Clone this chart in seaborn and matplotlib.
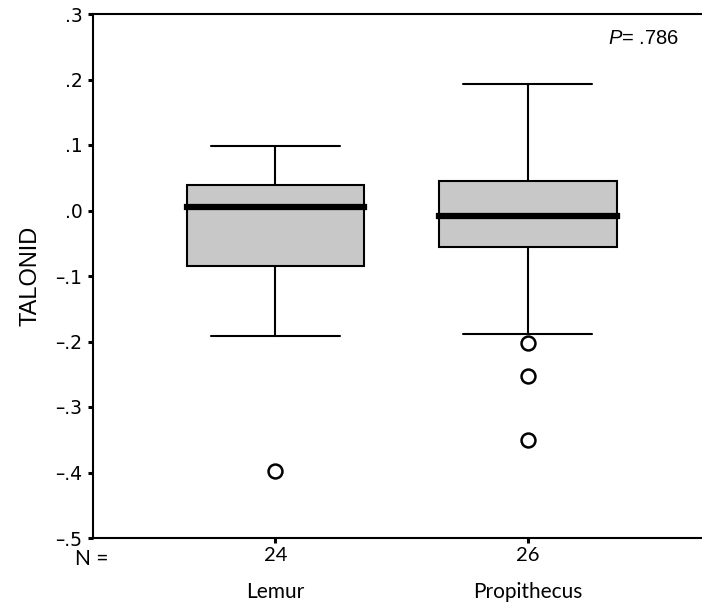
import matplotlib
matplotlib.use("Agg")
import matplotlib.pyplot as plt
import seaborn as sns
import pandas as pd

# values (SPSS style)
groups = ["Lemur", "Propithecus"]
counts = [24, 26]
medians = [0.005, -0.008]
q1 = [-0.084, -0.055]
q3 = [0.039, 0.045]
whisker_lo = [-0.192, -0.189]
whisker_hi = [0.099, 0.193]
outliers_lemur = [-0.398]
outliers_propithecus = [-0.202, -0.252, -0.350]
p_value = ".786"

yticks = [0.3, 0.2, 0.1, 0.0, -0.1, -0.2, -0.3, -0.4, -0.5]
ytick_labels = [".3", ".2", ".1", ".0", "\u2013.1", "\u2013.2", "\u2013.3", "\u2013.4", "\u2013.5"]

sns.set_theme(style="white", rc={"text.color": "black", "axes.labelcolor": "black",
                                 "xtick.color": "black", "ytick.color": "black"})
plt.rcParams["font.family"] = ["DejaVu Sans"]
plt.rcParams["mathtext.fontset"] = "custom"
plt.rcParams["mathtext.it"] = "Liberation Sans:italic"
plt.rcParams["mathtext.rm"] = "Liberation Sans"

fig = plt.figure(figsize=(7.02, 6.05), dpi=100)
W, H = 702, 605
ax = fig.add_axes([93 / W, 1 - 538 / H, 1 - 93 / W, (538 - 14) / H])

stats = []
for i, g in enumerate(groups):
    stats.append({
        "label": g,
        "med": medians[i],
        "q1": q1[i],
        "q3": q3[i],
        "whislo": whisker_lo[i],
        "whishi": whisker_hi[i],
        "fliers": [],
    })

ax.bxp(
    stats,
    positions=[0, 1],
    widths=0.706,
    capwidths=0.512,
    patch_artist=True,
    showfliers=False,
    boxprops=dict(facecolor="#c8c8c8", edgecolor="black", linewidth=1.5),
    medianprops=dict(color="black", linewidth=4.5, solid_capstyle="projecting"),
    whiskerprops=dict(color="black", linewidth=1.5),
    capprops=dict(color="black", linewidth=1.5),
)

# outliers
out_df = pd.DataFrame({
    "pos": [0] * len(outliers_lemur) + [1] * len(outliers_propithecus),
    "value": outliers_lemur + outliers_propithecus,
})
sns.scatterplot(data=out_df, x="pos", y="value", ax=ax, marker="o", s=100,
                facecolor="white", edgecolor="black", linewidth=1.8, zorder=5)

ax.set_xlim(-0.724, 1.692)
ax.set_ylim(-0.5, 0.3)

ax.set_yticks(yticks)
ax.set_yticklabels(ytick_labels, fontsize=13.5)
ax.set_xticks([0, 1])
ax.set_xticklabels([str(c) for c in counts], fontsize=14.5, family="Lato")
ax.tick_params(axis="both", which="both", direction="out", length=3.6, width=2.2,
               color="black", labelcolor="black", left=True, bottom=True)
ax.tick_params(axis="y", pad=4)
ax.tick_params(axis="x", pad=3)

ax.set_xlabel("")
ax.set_ylabel("TALONID", fontsize=17, family="Liberation Sans", labelpad=10, color="black")

for side in ["left", "top", "bottom"]:
    ax.spines[side].set_visible(True)
    ax.spines[side].set_color("black")
    ax.spines[side].set_linewidth(1.5)
ax.spines["right"].set_visible(False)

# group names under the N counts
for i, g in enumerate(groups):
    ax.annotate(g, xy=(i, 0), xycoords=("data", "axes fraction"),
                xytext=(0, -54), textcoords="offset pixels",
                ha="center", va="center", fontsize=15, family="Lato", color="black")

fig.text(75 / W, 1 - 559 / H, "N =", ha="left", va="center", fontsize=15,
         family="Lato", color="black")

fig.text(679 / W, 1 - 38 / H, "$P$= " + p_value, ha="right", va="center",
         fontsize=14.5, family="Liberation Sans", color="black")

fig.savefig("out.png", dpi=100)
